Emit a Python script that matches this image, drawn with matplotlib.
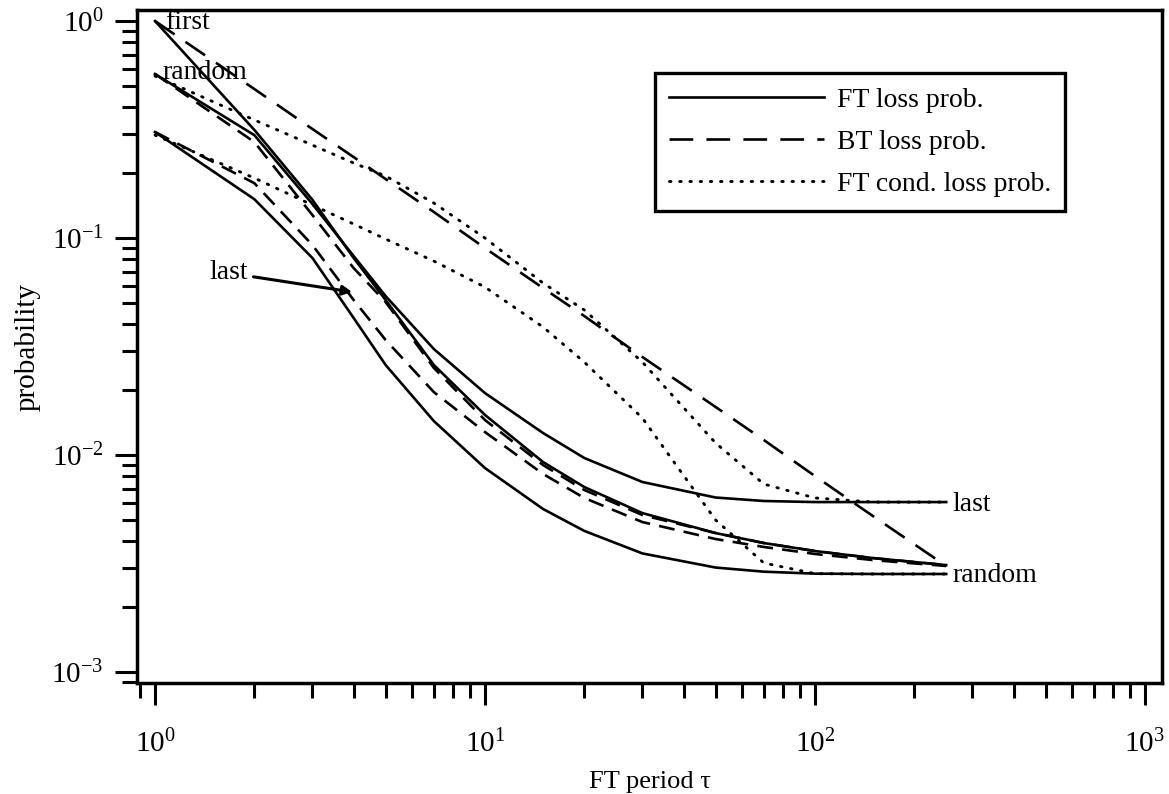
import matplotlib
matplotlib.use("Agg")
import matplotlib.pyplot as plt
from matplotlib.ticker import LogLocator, NullFormatter

plt.rcParams["font.family"] = ["Liberation Serif", "DejaVu Serif"]
plt.rcParams["mathtext.fontset"] = "custom"
plt.rcParams["mathtext.rm"] = "Liberation Serif"
plt.rcParams["mathtext.it"] = "Liberation Serif:italic"

# FT period
tau = [1, 2, 3, 4, 5, 7, 10, 15, 20, 30, 50, 70, 100, 150, 250]

# FT loss probability (solid)
ft_first = [1.0, 0.315, 0.150, 0.0809, 0.0518, 0.0260, 0.0153, 0.00928, 0.00712,
            0.0054, 0.00437, 0.00393, 0.00361, 0.00335, 0.00311]
ft_random = [0.570, 0.298, 0.1434, 0.0826, 0.0540, 0.0308, 0.0193, 0.01263, 0.00969,
             0.00751, 0.00637, 0.00614, 0.00607, 0.00607, 0.00607]
ft_last = [0.308, 0.151, 0.0809, 0.0428, 0.0260, 0.01434, 0.00871, 0.00564, 0.00447,
           0.00352, 0.00303, 0.00290, 0.00284, 0.00283, 0.00283]

# BT loss probability (dashed)
bt_first = [1.0, 0.486, 0.318, 0.236, 0.187, 0.1318, 0.0899, 0.0588, 0.0437,
            0.0283, 0.01665, 0.01173, 0.0080, 0.00523, 0.00308]
bt_random = [0.570, 0.277, 0.1276, 0.0727, 0.0507, 0.0252, 0.0145, 0.00899, 0.0069,
             0.00529, 0.00437, 0.00393, 0.00361, 0.00335, 0.00311]
bt_last = [0.308, 0.179, 0.0928, 0.0518, 0.0339, 0.0195, 0.01276, 0.00818, 0.00634,
           0.00491, 0.0041, 0.00377, 0.0035, 0.00328, 0.00308]

# FT conditional loss probability (dotted)
cond_random = [0.558, 0.350, 0.268, 0.2216, 0.193, 0.145, 0.100, 0.0620, 0.0466,
               0.0268, 0.01136, 0.00735, 0.00634, 0.00607, 0.00607]
cond_last = [0.298, 0.189, 0.1419, 0.116, 0.0989, 0.0783, 0.0594, 0.0389, 0.0268,
             0.0148, 0.00502, 0.00318, 0.00284, 0.00283, 0.00283]

legend_labels = ["FT loss prob.", "BT loss prob.", "FT cond. loss prob."]

fig = plt.figure(figsize=(11.69, 7.94), dpi=100)
ax = fig.add_axes([0.1172, 0.1398, 0.8768, 0.8476])

lw = 1.9
long_dash = (0, (9, 5))
short_dash = (0, (6, 3.5))
dots = (0, (0.5, 3.0))

ax.plot(tau, ft_first, color="black", lw=lw, label=legend_labels[0])
ax.plot(tau, ft_random, color="black", lw=lw)
ax.plot(tau, ft_last, color="black", lw=lw)

ax.plot(tau, bt_first, color="black", lw=lw, linestyle=long_dash, label=legend_labels[1])
ax.plot(tau, bt_random, color="black", lw=lw, linestyle=short_dash)
ax.plot(tau, bt_last, color="black", lw=lw, linestyle=short_dash)

ax.plot(tau, cond_random, color="black", lw=lw + 0.2, linestyle=dots,
        dash_capstyle="round", label=legend_labels[2])
ax.plot(tau, cond_last, color="black", lw=lw + 0.2, linestyle=dots, dash_capstyle="round")

ax.set_xscale("log")
ax.set_yscale("log")
ax.set_xlim(0.882, 1127)
ax.set_ylim(8.9e-4, 1.124)

ax.xaxis.set_major_locator(LogLocator(base=10))
ax.xaxis.set_minor_locator(LogLocator(base=10, subs=range(2, 10)))
ax.xaxis.set_minor_formatter(NullFormatter())
ax.yaxis.set_major_locator(LogLocator(base=10))
ax.yaxis.set_minor_locator(LogLocator(base=10, subs=range(2, 10)))
ax.yaxis.set_minor_formatter(NullFormatter())

ax.tick_params(which="both", direction="out", top=False, right=False, width=2.2, labelsize=21)
ax.tick_params(which="major", length=16)
ax.tick_params(which="minor", length=11)
ax.tick_params(axis="x", which="major", pad=18)
ax.tick_params(axis="y", which="major", pad=8)
for spine in ax.spines.values():
    spine.set_linewidth(2.5)

ax.set_xlabel("FT period τ", fontsize=19, labelpad=9)
ax.set_ylabel("probability", fontsize=21, labelpad=8)

# curve labels
ax.text(1.07, 0.98, "first", fontsize=20, ha="left", va="center")
ax.text(1.057, 0.58, "random", fontsize=20, ha="left", va="center")
ax.annotate("last", xy=(3.96, 0.0564), xytext=(1.913, 0.069), fontsize=20,
            ha="right", va="center",
            arrowprops=dict(arrowstyle="-|>", color="black", lw=2.2, mutation_scale=14,
                            shrinkA=2, shrinkB=0))
ax.text(262, 0.00589, "last", fontsize=20, ha="left", va="center")
ax.text(262, 0.00277, "random", fontsize=20, ha="left", va="center")

leg = ax.legend(loc="upper left", bbox_to_anchor=(0.505, 0.906), borderaxespad=0,
                frameon=True, fancybox=False, edgecolor="black", framealpha=1,
                fontsize=20, handlelength=5.6, handletextpad=0.45, borderpad=0.5,
                labelspacing=0.6)
leg.get_frame().set_linewidth(2.4)

fig.savefig("out.png", dpi=100)
